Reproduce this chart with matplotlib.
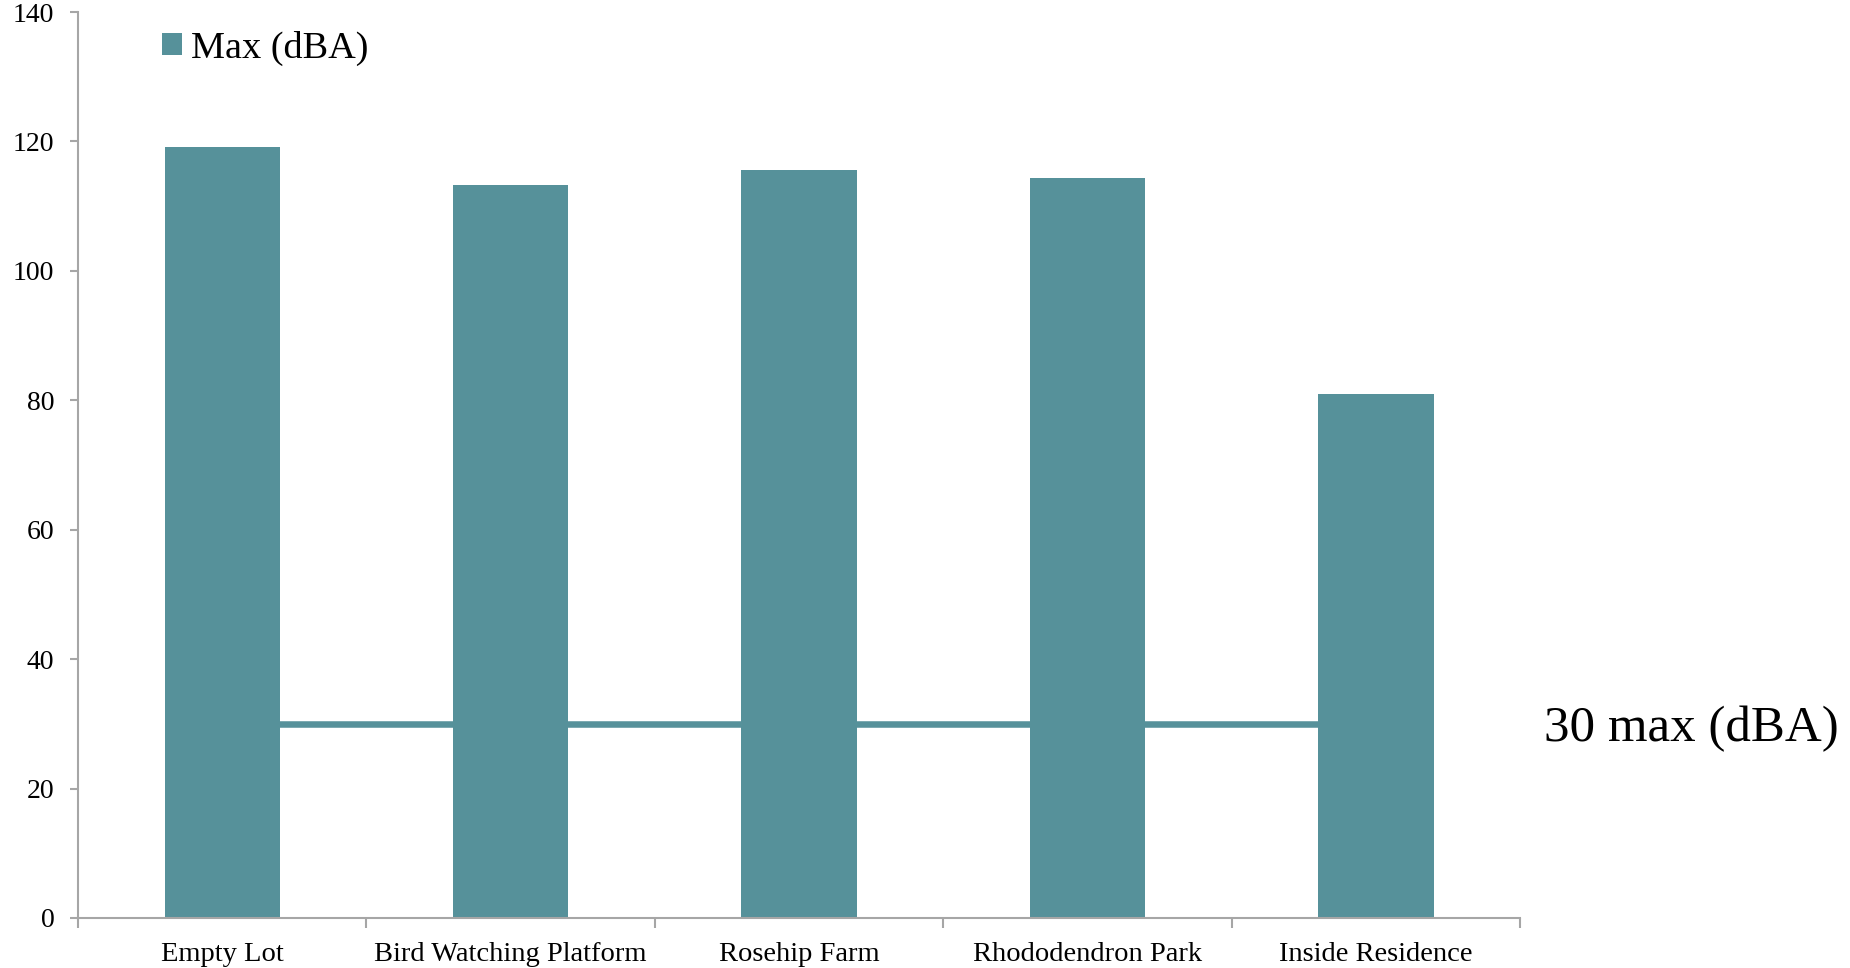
import matplotlib
matplotlib.use("Agg")
import matplotlib.pyplot as plt
import numpy as np
from matplotlib.transforms import blended_transform_factory

# Data
locations = ["Empty Lot", "Bird Watching Platform", "Rosehip Farm",
             "Rhododendron Park", "Inside Residence"]
max_dba = [119.1, 113.2, 115.6, 114.3, 81.0]
limit_dba = [30, 30, 30, 30, 30]
y_ticks = [0, 20, 40, 60, 80, 100, 120, 140]

teal = "#56919A"
axis_grey = "#A6A6A6"
serif = ["Liberation Serif", "DejaVu Serif"]

plt.rcParams["font.family"] = serif

fig = plt.figure(figsize=(18.5, 9.68), dpi=100)
ax = fig.add_axes([0.0422, 0.0517, 0.7795, 0.9359])

x = np.arange(len(locations))

# Recommended limit line sits behind the bars
ax.plot(x, limit_dba, color=teal, linewidth=4.7, zorder=1, solid_capstyle="butt")
ax.bar(x, max_dba, width=0.4, color=teal, zorder=2, label="Max (dBA)")

ax.set_xlim(-0.5, len(locations) - 0.5)
ax.set_ylim(0, 140)

# Axis styling
for side in ("top", "right"):
    ax.spines[side].set_visible(False)
for side in ("left", "bottom"):
    ax.spines[side].set_color(axis_grey)
    ax.spines[side].set_linewidth(1.5)

ax.set_yticks(y_ticks)
ax.set_yticklabels([str(v) for v in y_ticks], fontsize=20)
ax.tick_params(axis="y", direction="out", length=6, width=1.5, color=axis_grey,
               pad=11, labelcolor="black")

# Category boundaries get the tick marks, centres get the labels
ax.set_xticks(np.arange(-0.5, len(locations), 1.0))
ax.set_xticklabels([])
ax.set_xticks(x, minor=True)
ax.set_xticklabels(locations, minor=True, fontsize=20.5)
ax.tick_params(axis="x", which="major", direction="out", length=7, width=1.5,
               color=axis_grey)
ax.tick_params(axis="x", which="minor", length=0, pad=17.5, labelcolor="black")

# Legend
leg = ax.legend(loc="center left", bbox_to_anchor=(0.058, 0.960), frameon=False,
                fontsize=27.5, borderpad=0, borderaxespad=0,
                handlelength=0.53, handleheight=0.53, handletextpad=0.24)

# Label for the limit line, outside the plot area on the right
trans = blended_transform_factory(ax.transAxes, ax.transData)
ax.annotate(f"{limit_dba[-1]} max (dBA)", xy=(1.0166, limit_dba[-1]), xycoords=trans,
            xytext=(0, -3.4), textcoords="offset points",
            fontsize=36.7, va="center", ha="left", annotation_clip=False)

fig.savefig("out.png", dpi=100, facecolor="white")
